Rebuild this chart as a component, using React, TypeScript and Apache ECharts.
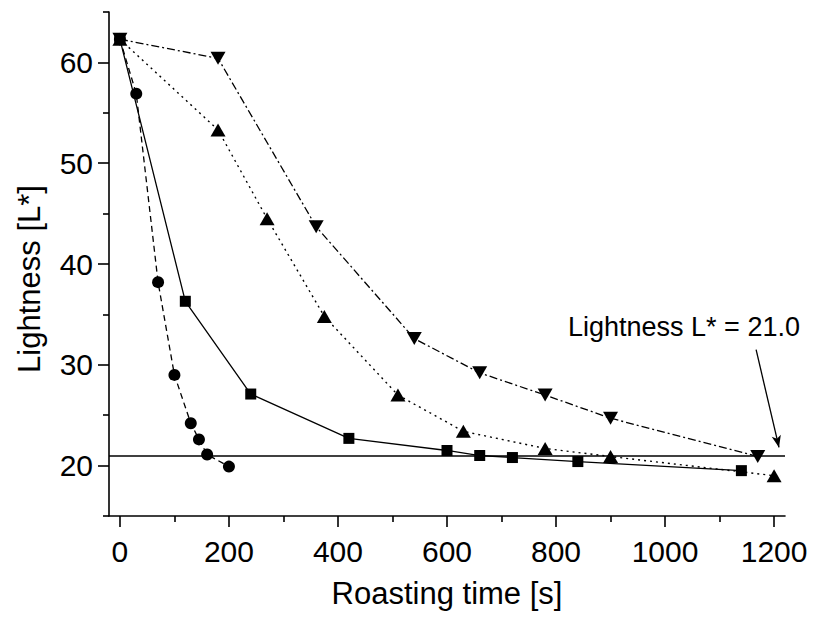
import React, { useEffect, useRef } from "react";
import * as echarts from "echarts";

const FONT = "'Liberation Sans', Arial, sans-serif";

// Roasting time [s] and lightness L* values for the four roasting conditions
const circleData: [number, number][] = [
  [0, 62.3], [30, 56.9], [70, 38.2], [100, 29.0], [130, 24.2], [145, 22.6], [160, 21.1], [200, 19.9],
];
const squareData: [number, number][] = [
  [0, 62.3], [120, 36.3], [240, 27.1], [420, 22.7], [600, 21.5], [660, 21.0], [720, 20.8], [840, 20.4], [1140, 19.5],
];
const triUpData: [number, number][] = [
  [0, 62.3], [180, 53.3], [270, 44.5], [375, 34.8], [510, 27.0], [630, 23.4], [780, 21.7], [900, 20.9], [1200, 19.0],
];
const triDownData: [number, number][] = [
  [0, 62.3], [180, 60.4], [360, 43.7], [540, 32.6], [660, 29.2], [780, 27.0], [900, 24.7], [1170, 20.9],
];

const xMajorTicks = [0, 200, 400, 600, 800, 1000, 1200];
const xMinorTicks = [100, 300, 500, 700, 900, 1100];
const yMajorTicks = [20, 30, 40, 50, 60];
const yMinorTicks = [15, 25, 35, 45, 55, 65];

const thresholdL = 21.0;
const annotationText = "Lightness L* = 21.0";
const arrowStart: [number, number] = [1167, 31.5];
const arrowEnd: [number, number] = [1209, 21.8];

export default function App() {
  const ref = useRef<HTMLDivElement>(null);

  useEffect(() => {
    if (!ref.current) return;
    const chart = echarts.init(ref.current, null, { renderer: "svg" });
    const black = "#000";
    const axisLine = { show: true, onZero: false, lineStyle: { color: black, width: 1.6 } };
    const fmt = (v: number) => String(v);

    const seriesBase = {
      type: "line" as const,
      xAxisIndex: 0,
      yAxisIndex: 0,
      itemStyle: { color: black },
      emphasis: { disabled: true },
    };

    chart.setOption({
      animation: false,
      backgroundColor: "#fff",
      grid: { left: 109, top: 12, right: 28, bottom: 105, containLabel: false },
      xAxis: [
        {
          type: "value",
          min: -20,
          max: 1220,
          position: "bottom",
          name: "Roasting time [s]",
          nameLocation: "middle",
          nameGap: 62,
          nameTextStyle: { fontFamily: FONT, fontSize: 31, color: black },
          axisLine,
          axisTick: { show: true, inside: false, length: 11, customValues: xMajorTicks, lineStyle: { color: black, width: 1.6 } },
          axisLabel: { show: true, customValues: xMajorTicks, formatter: fmt, margin: 20, fontFamily: FONT, fontSize: 30, color: black },
          splitLine: { show: false },
        },
        {
          type: "value",
          min: -20,
          max: 1220,
          position: "bottom",
          axisLine: { show: false, onZero: false },
          axisTick: { show: true, inside: false, length: 6, customValues: xMinorTicks, lineStyle: { color: black, width: 1.6 } },
          axisLabel: { show: false },
          splitLine: { show: false },
        },
      ],
      yAxis: [
        {
          type: "value",
          min: 15,
          max: 65,
          position: "left",
          name: "Lightness [L*]",
          nameLocation: "middle",
          nameGap: 64,
          nameTextStyle: { fontFamily: FONT, fontSize: 31, color: black, padding: [0, 30, 0, 0] },
          axisLine,
          axisTick: { show: true, inside: false, length: 11, customValues: yMajorTicks, lineStyle: { color: black, width: 1.6 } },
          axisLabel: { show: true, customValues: yMajorTicks, formatter: fmt, margin: 16, fontFamily: FONT, fontSize: 30, color: black },
          splitLine: { show: false },
        },
        {
          type: "value",
          min: 15,
          max: 65,
          position: "left",
          axisLine: { show: false, onZero: false },
          axisTick: { show: true, inside: false, length: 6, customValues: yMinorTicks, lineStyle: { color: black, width: 1.6 } },
          axisLabel: { show: false },
          splitLine: { show: false },
        },
      ],
      series: [
        {
          ...seriesBase,
          name: "circle",
          data: circleData,
          symbol: "circle",
          symbolSize: 12,
          lineStyle: { color: black, width: 1.3, type: [6, 4] },
          z: 3,
          markLine: {
            silent: true,
            symbol: ["none", "none"],
            label: { show: false },
            lineStyle: { color: black, width: 1.6, type: "solid" },
            data: [{ yAxis: thresholdL }],
            animation: false,
          },
        },
        {
          ...seriesBase,
          name: "square",
          data: squareData,
          symbol: "rect",
          symbolSize: 11,
          lineStyle: { color: black, width: 1.3, type: "solid" },
          z: 3,
          markLine: {
            silent: true,
            symbol: ["none", "arrow"],
            symbolSize: [7, 12],
            label: { show: false },
            lineStyle: { color: black, width: 1.3, type: "solid" },
            data: [[{ coord: arrowStart }, { coord: arrowEnd }]],
            animation: false,
          },
        },
        {
          ...seriesBase,
          name: "triangle",
          data: triUpData,
          symbol: "triangle",
          symbolSize: [15, 13],
          lineStyle: { color: black, width: 1.4, type: [2, 4] },
          z: 3,
        },
        {
          ...seriesBase,
          name: "triangleDown",
          data: triDownData,
          symbol: "triangle",
          symbolRotate: 180,
          symbolSize: [15, 13],
          lineStyle: { color: black, width: 1.3, type: [8, 3, 2, 3] },
          z: 3,
        },
      ],
      graphic: [
        {
          type: "text",
          left: 568,
          top: 313,
          style: { text: annotationText, fontFamily: FONT, fontSize: 27, fill: black },
        },
      ],
    });

    return () => chart.dispose();
  }, []);

  return (
    <div
      ref={ref}
      style={{ position: "fixed", left: 0, top: 0, width: 813, height: 621, background: "#fff" }}
    />
  );
}
